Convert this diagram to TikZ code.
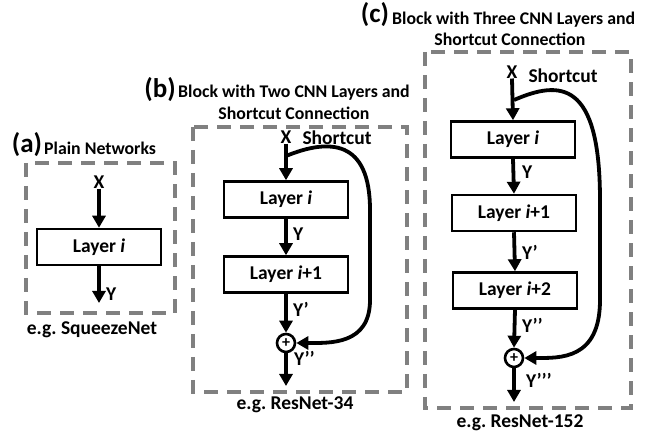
\documentclass[tikz,border=0pt]{standalone}
\usepackage{fontspec}
\setmainfont{Carlito}
\usetikzlibrary{arrows.meta}
\frenchspacing
\tikzset{
  layerbox/.style={draw, line width=2.5pt, minimum width=124pt, minimum height=36pt,
    inner sep=0pt, font=\bfseries\fontsize{19.5}{19.5}\selectfont},
  lbl/.style={inner sep=0pt, font=\bfseries\fontsize{19.5}{19.5}\selectfont},
  title/.style={inner sep=0pt, font=\bfseries\fontsize{17.8}{17.8}\selectfont},
  tag/.style={inner sep=0pt, font=\bfseries\fontsize{27}{27}\selectfont},
  frame/.style={draw=black!50, line width=4.5pt, dash pattern=on 14pt off 9pt},
  flow/.style={line width=3.8pt, -{Triangle[width=13pt,length=12pt]}},
  skip/.style={line width=3.8pt, -{Triangle[width=13pt,length=12pt]}},
  sumnode/.style={circle, draw, line width=2.6pt, minimum size=18pt, inner sep=0pt,
    font=\bfseries\fontsize{16}{16}\selectfont},
}
\begin{document}
\begin{tikzpicture}[x=1pt,y=-1pt]
\useasboundingbox (0,0) rectangle (646,435);

% ---------------- (a) plain network ----------------
\node[tag] (ta) at (27,145) {(a)};
\node[title, anchor=west] (ha) at (44,148) {Plain Networks};
\draw[frame] (26,163) rectangle (175,313);
\node[lbl] (xa) at (99,182) {X};
\node[layerbox] (la) at (99,247) {Layer \textit{i}};
\coordinate (ya) at (99,303);
\draw[flow] (xa.south) -- (la.north);
\draw[flow] (la.south) -- (ya);
\node[lbl, anchor=west] (yla) at (106,294) {Y};
\node[lbl] (ea) at (92,330) {e.g. SqueezeNet};

% ---------------- (b) two layers with shortcut ----------------
\node[tag] (tb) at (160,90) {(b)};
\node[title, anchor=west] (hb1) at (178,93) {Block with Two CNN Layers and};
\node[title] (hb2) at (294,113) {Shortcut Connection};
\draw[frame] (193,127) rectangle (407,392);
\node[lbl] (xb) at (286,137) {X};
\node[lbl] (sb) at (337,138) {Shortcut};
\node[layerbox] (lb1) at (286,199.5) {Layer \textit{i}};
\node[layerbox] (lb2) at (286,274.5) {Layer \textit{i}+1};
\node[sumnode] (pb) at (286,343) {+};
\coordinate (yb) at (286,386);
\coordinate (bb) at (286,156);
\draw[flow] (xb.south) -- (lb1.north);
\draw[flow] (lb1.south) -- (lb2.north);
\draw[flow] (lb2.south) -- (pb.north);
\draw[flow] (pb.south) -- (yb);
\draw[skip]
  (bb) .. controls (330,138) and (370,140) .. (370,210) -- (370,300)
  .. controls (370,345) and (330,343) .. (pb.east);
\node[lbl, anchor=west] (ylb1) at (293,234) {Y};
\node[lbl, anchor=west] (ylb2) at (293,309) {Y’};
\node[lbl, anchor=west] (ylb3) at (294,358) {Y’’};
\node[lbl] (eb) at (295,405) {e.g. ResNet-34};

% ---------------- (c) three layers with shortcut ----------------
\node[tag] (tc) at (375,15) {(c)};
\node[title, anchor=west] (hc1) at (392,20) {Block with Three CNN Layers and};
\node[title] (hc2) at (510,39) {Shortcut Connection};
\draw[frame] (425,52) rectangle (631,408);
\node[lbl] (xc) at (512,72) {X};
\node[lbl] (sc) at (563,76) {Shortcut};
\node[layerbox] (lc1) at (513,139.5) {Layer \textit{i}};
\node[layerbox] (lc2) at (514,213) {Layer \textit{i}+1};
\node[layerbox] (lc3) at (515,290.5) {Layer \textit{i}+2};
\node[sumnode] (pc) at (514,358) {+};
\coordinate (yc) at (514,402);
\coordinate (bc) at (514,100);
\draw[flow] (xc.south) -- (lc1.north);
\draw[flow] (lc1.south) -- (lc2.north);
\draw[flow] (lc2.south) -- (lc3.north);
\draw[flow] (lc3.south) -- (pc.north);
\draw[flow] (pc.south) -- (yc);
\draw[skip]
  (bc) .. controls (560,80) and (600,80) .. (600,200) -- (600,300)
  .. controls (600,360) and (560,358) .. (pc.east);
\node[lbl, anchor=west] (ylc1) at (522,172) {Y};
\node[lbl, anchor=west] (ylc2) at (522,252) {Y’};
\node[lbl, anchor=west] (ylc3) at (522,325) {Y’’};
\node[lbl, anchor=west] (ylc4) at (526,380) {Y’’’};
\node[lbl] (ec) at (520,423) {e.g. ResNet-152};
\end{tikzpicture}
\end{document}
